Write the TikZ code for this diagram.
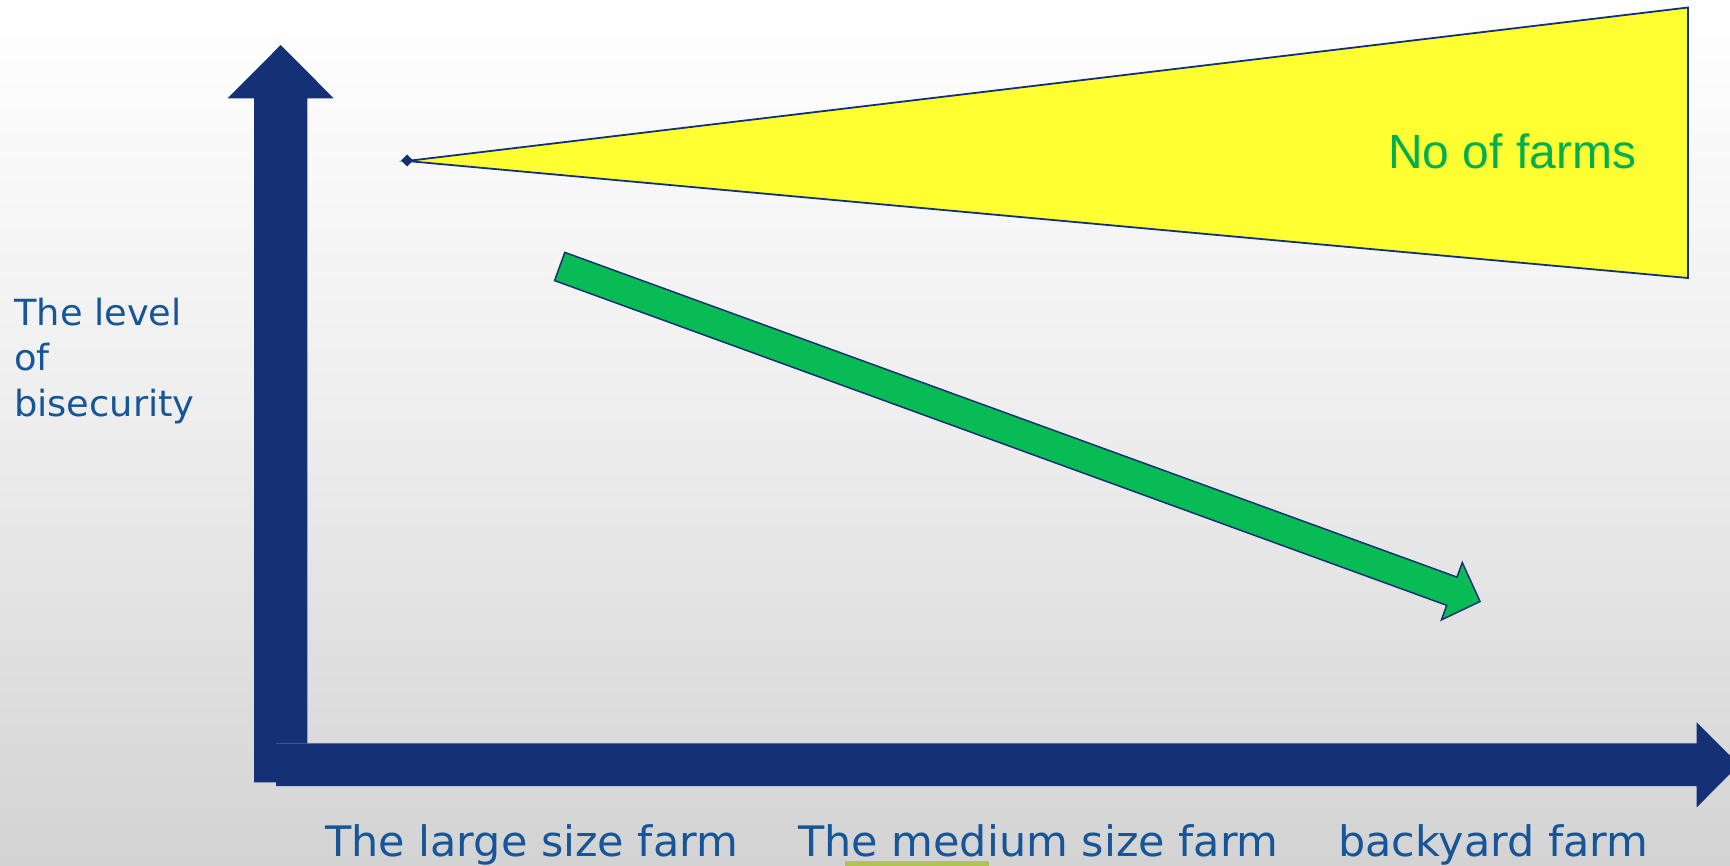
\documentclass[tikz,border=0pt]{standalone}
\usepackage{fontspec}
\newfontfamily\verd[FakeStretch=1.022]{DejaVu Sans}
\newfontfamily\arial{Liberation Sans}
\definecolor{navy}{RGB}{20,49,118}
\definecolor{lbl}{RGB}{22,86,152}
\definecolor{farmgreen}{RGB}{0,176,80}
\definecolor{arrgreen}{RGB}{8,187,84}
\definecolor{yel}{RGB}{255,255,50}
\definecolor{bgmid}{RGB}{237,237,237}
\definecolor{bgbot}{RGB}{211,211,211}
\definecolor{ulbar}{RGB}{176,196,80}
\tikzset{
  axisshape/.style={fill=navy, draw=none},
  lbltext/.style={font=\verd\fontsize{42}{50}\selectfont, text=lbl, inner sep=0pt, anchor=base west},
  sidetext/.style={font=\verd\fontsize{36}{45}\selectfont, text=lbl, inner sep=0pt, anchor=base west},
}
\begin{document}
\begin{tikzpicture}[x=1pt,y=-1pt]
\useasboundingbox (0,0) rectangle (1730,866);
\shade[top color=white, bottom color=bgbot, middle color=bgmid] (0,0) rectangle (1730,866);
% yellow wedge
\draw[fill=yel, draw=navy, line width=1.8pt, line join=miter] (407,161) -- (1688,7.5) -- (1688,278) -- cycle;
\fill[navy] (401,160.5) -- (407,154.5) -- (413,160.5) -- (407,166.5) -- cycle;
\node[font=\arial\fontsize{48}{56}\selectfont, text=farmgreen, inner sep=0pt, anchor=base west] (nof) at (1388,168.3) {No of farms};
% vertical axis arrow
\fill[navy] (254,782.3) -- (254,98.3) -- (227.7,98.3) -- (280.7,45) -- (333.7,98.3) -- (307.3,98.3) -- (307.3,743.3) -- (276,743.3) -- (276,782.3) -- cycle;
% horizontal axis arrow
\fill[navy] (276,743.3) -- (1696.7,743.3) -- (1696.7,722.3) -- (1739.2,764.7) -- (1696.7,807.3) -- (1696.7,786) -- (276,786) -- cycle;
% green trend arrow
\begin{scope}[shift={(559.7,266.5)}, rotate=-20]
\draw[fill=arrgreen, draw=navy, line width=1.5pt, line join=miter] (0,-15) -- (949.4,-15) -- (949.4,-30.5) -- (979.4,0) -- (949.4,30.5) -- (949.4,15) -- (0,15) -- cycle;
\end{scope}
% side label
\node[sidetext] (l1) at (14,325.7) {The level};
\node[sidetext] (l2) at (14,370.7) {of};
\node[sidetext] (l3) at (14,416.2) {bisecurity};
% bottom labels
\fill[ulbar] (845,861) rectangle (988.7,866);
\node[lbltext] (large) at (325,856.7) {The large size farm};
\node[lbltext] (medium) at (798,856.7) {The medium size farm};
\node[lbltext] (back) at (1338,856.7) {backyard farm};
\end{tikzpicture}
\end{document}
